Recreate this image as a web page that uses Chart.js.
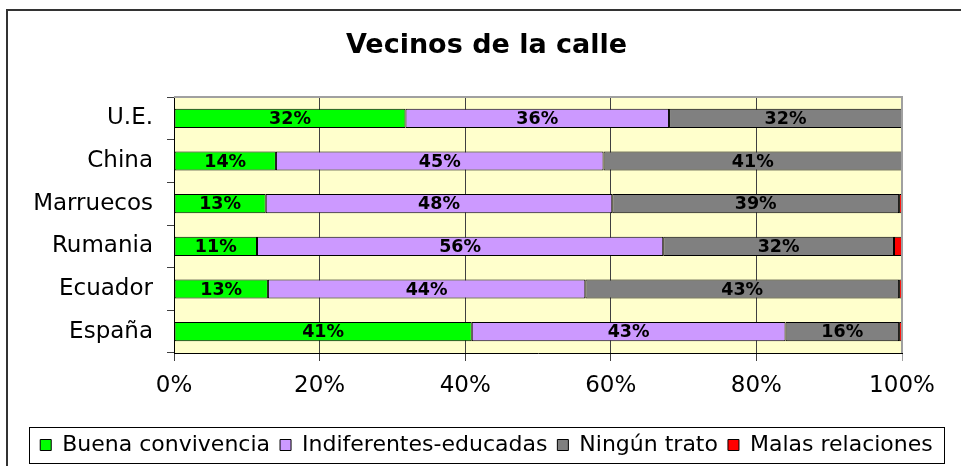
<!DOCTYPE html>
<html>
<head>
<meta charset="utf-8">
<title>Vecinos de la calle</title>
<script src="https://cdn.jsdelivr.net/npm/chart.js@4.4.1/dist/chart.umd.min.js"></script>
<style>
  html, body { margin:0; padding:0; background:#fff; }
  #wrap { width:961px; height:466px; }
</style>
</head>
<body>
<div id="wrap"><canvas id="chart" width="961" height="466"></canvas></div>
<script>
/* Vecinos de la calle — 100% stacked horizontal bars */
const TITLE = 'Vecinos de la calle';
const CATEGORIES = ['U.E.', 'China', 'Marruecos', 'Rumania', 'Ecuador', 'España'];
const SERIES = ['Buena convivencia', 'Indiferentes-educadas', 'Ningún trato', 'Malas relaciones'];
const BUENA = [31.8, 14.0, 12.6, 11.4, 12.9, 40.9];
const INDIFERENTES = [36.2, 45.0, 47.6, 55.8, 43.6, 43.1];
const NINGUN = [32.0, 41.0, 39.4, 31.7, 43.1, 15.6];
const MALAS = [0, 0, 0.4, 1.1, 0.4, 0.4];
const X_TICKS = [0, 20, 40, 60, 80, 100];
const COLORS = ['#00FF00', '#CC99FF', '#808080', '#FF0000'];
const LABELLED = 3; // only first three series carry a value label

Chart.defaults.font.family = "'DejaVu Sans', sans-serif";
Chart.defaults.color = '#000';

// white page, outer frame, yellow plot area
const backdrop = {
  id: 'backdrop',
  beforeDraw(chart){
    const { ctx, chartArea: a } = chart;
    ctx.save();
    ctx.fillStyle = '#fff';
    ctx.fillRect(0, 0, chart.width, chart.height);
    ctx.fillStyle = '#333';
    ctx.fillRect(6, 9, chart.width - 6, 2);
    ctx.fillRect(6, 9, 2, chart.height - 9);
    ctx.fillStyle = '#FFFFCC';
    ctx.fillRect(a.left, a.top, a.right - a.left, a.bottom - a.top);
    ctx.restore();
  },
  afterDraw(chart){
    const { ctx, chartArea: a, legend } = chart;
    ctx.save();
    // grey top/right edge of the plot
    ctx.strokeStyle = '#A0A0A0';
    ctx.lineWidth = 2;
    ctx.beginPath();
    ctx.moveTo(a.left, a.top);
    ctx.lineTo(a.right, a.top);
    ctx.lineTo(a.right, a.bottom);
    ctx.stroke();
    // box round the legend
    const hb = legend.legendHitBoxes;
    if (hb && hb.length){
      const l = Math.min(...hb.map(h => h.left)) - 11;
      const r = Math.max(...hb.map(h => h.left + h.width)) + 11;
      ctx.strokeStyle = '#000';
      ctx.lineWidth = 1;
      ctx.strokeRect(Math.round(l) + 0.5, legend.top + 3.5, Math.round(r - l), legend.bottom - legend.top - 6);
    }
    ctx.restore();
  }
};

// percentage labels centred in each segment
const segLabels = {
  id: 'segLabels',
  afterDatasetsDraw(chart){
    const ctx = chart.ctx;
    ctx.save();
    ctx.font = "bold 17.5px 'DejaVu Sans', sans-serif";
    ctx.fillStyle = '#000';
    ctx.textAlign = 'center';
    ctx.textBaseline = 'middle';
    chart.data.datasets.forEach((ds, i) => {
      if (i >= LABELLED) return;
      chart.getDatasetMeta(i).data.forEach((bar, j) => {
        const v = ds.data[j];
        if (!v) return;
        const p = bar.getCenterPoint();
        ctx.fillText(Math.round(v) + '%', p.x, p.y + 1);
      });
    });
    ctx.restore();
  }
};

const values = [BUENA, INDIFERENTES, NINGUN, MALAS];

new Chart(document.getElementById('chart'), {
  type: 'bar',
  data: {
    labels: CATEGORIES,
    datasets: SERIES.map((name, i) => ({
      label: name,
      data: values[i],
      backgroundColor: COLORS[i],
      borderColor: '#000',
      borderWidth: 1,
      borderSkipped: false,
      categoryPercentage: 1,
      barPercentage: 0.45
    }))
  },
  options: {
    indexAxis: 'y',
    responsive: false,
    animation: false,
    layout: { padding: { left: 20, right: 8, top: 0, bottom: 0 } },
    plugins: {
      title: {
        display: true, text: TITLE,
        font: { size: 27, weight: 'bold' },
        padding: { top: 30, bottom: 34.6 }
      },
      legend: {
        position: 'bottom',
        labels: { boxWidth: 11, boxHeight: 11, padding: 10, font: { size: 22 } }
      },
      tooltip: { enabled: false }
    },
    scales: {
      x: {
        stacked: true, min: 0, max: 100,
        afterBuildTicks: s => { s.ticks = X_TICKS.map(v => ({ value: v })); },
        afterFit: s => { s.height = 71; },
        ticks: { callback: v => v + '%', font: { size: 23 }, padding: 11, maxRotation: 0 },
        grid: {
          color: c => (c.tick && c.tick.value === 100) ? '#A0A0A0' : '#404040',
          lineWidth: 1, tickLength: 8
        },
        border: { display: true, color: '#000' }
      },
      y: {
        stacked: true,
        afterFit: s => { s.width = 154; },
        ticks: { font: { size: 23 }, padding: 14 },
        grid: { offset: true, drawOnChartArea: false, color: '#404040', tickLength: 7 },
        border: { display: true, color: '#000' }
      },
      // empty right-hand axis: only reserves the margin right of the plot
      yRight: {
        type: 'linear', position: 'right',
        afterFit: s => { s.width = 51; },
        ticks: { display: false },
        grid: { display: false },
        border: { display: false }
      }
    }
  },
  plugins: [backdrop, segLabels]
});
</script>
</body>
</html>
